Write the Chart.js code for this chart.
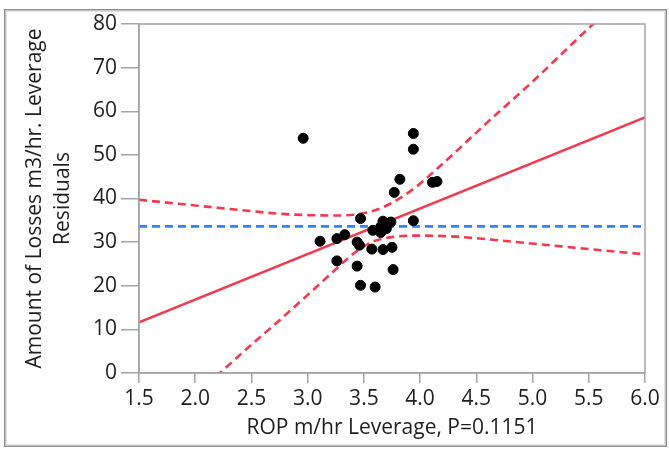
<!DOCTYPE html>
<html>
<head>
<meta charset="utf-8">
<script src="https://cdn.jsdelivr.net/npm/chart.js@4.4.0/dist/chart.umd.min.js"></script>
<style>
  html, body { margin: 0; padding: 0; background: #fff; }
  canvas { display: block; }
</style>
</head>
<body>
<canvas id="leverage" width="669" height="449"></canvas>
<script>
// observed points (ROP leverage, losses leverage residual)
const pointX = [2.96, 3.94, 3.94, 3.82, 4.11, 4.15, 3.77, 3.47, 3.94, 3.67, 3.74, 3.65, 3.70, 3.58,
  3.65, 3.11, 3.26, 3.33, 3.44, 3.46, 3.57, 3.67, 3.75, 3.26, 3.44, 3.76, 3.47, 3.60];
const pointY = [53.8, 54.9, 51.3, 44.4, 43.7, 43.9, 41.4, 35.4, 34.9, 34.8, 34.6, 33.5, 33.1, 32.7,
  32.2, 30.2, 30.8, 31.7, 30.0, 29.3, 28.4, 28.3, 28.8, 25.7, 24.5, 23.7, 20.1, 19.7];

// fitted line and mean line
const fitX = [1.5, 6.0];
const fitY = [11.6, 58.6];
const meanX = [1.5, 6.0];
const meanY = [33.6, 33.6];

// confidence curves
const upperX = [1.5, 2.0, 2.5, 2.75, 3.0, 3.25, 3.45, 3.6, 3.75, 3.95, 4.15, 4.35, 4.6, 5.0, 5.54, 5.65];
const upperY = [39.7, 38.4, 37.1, 36.5, 36.2, 36.1, 36.4, 37.3, 39.0, 42.4, 46.8, 51.5, 57.5, 66.8, 80.0, 82.5];
const lowerX = [2.1, 2.22, 2.5, 2.75, 3.0, 3.2, 3.43, 3.6, 3.8, 4.0, 4.35, 4.7, 5.06, 5.5, 6.0];
const lowerY = [-2.8, 0.0, 6.5, 12.1, 17.9, 22.6, 27.8, 30.3, 31.3, 31.5, 31.2, 30.4, 29.5, 28.4, 27.2];

const xTicks = [1.5, 2.0, 2.5, 3.0, 3.5, 4.0, 4.5, 5.0, 5.5, 6.0];
const yTicks = [0, 10, 20, 30, 40, 50, 60, 70, 80];

const xTitle = "ROP m/hr Leverage, P=0.1151";
const yTitle = ["Amount of Losses m3/hr. Leverage", "Residuals"];

const red = "#f23a4f";
const blue = "#3d7ef2";
const axisGray = "#a4a4a4";
const textColor = "#1e1e1e";
const fontFamily = "'Open Sans', 'Noto Sans', sans-serif";
const fontSize = 21;

const toXY = (xs, ys) => xs.map((x, i) => ({ x: x, y: ys[i] }));

// frame round the panel and box round the plot
const framePlugin = {
  id: "frame",
  beforeDraw(chart) {
    const ctx = chart.ctx;
    ctx.save();
    ctx.fillStyle = "#fff";
    ctx.fillRect(0, 0, chart.width, chart.height);
    const shades = ["#8e8e8e", "#c4c4c4", "#e2e2e2"];
    shades.forEach((c, i) => {
      ctx.strokeStyle = c;
      ctx.lineWidth = 1;
      ctx.strokeRect(4.5 + i, 9.5 + i, 662 - 2 * i, 437 - 2 * i);
    });
    ctx.restore();
  },
  afterDraw(chart) {
    const a = chart.chartArea;
    const ctx = chart.ctx;
    ctx.save();
    ctx.strokeStyle = axisGray;
    ctx.lineWidth = 1.5;
    ctx.strokeRect(a.left, a.top, a.right - a.left, a.bottom - a.top);
    ctx.restore();
  }
};

new Chart(document.getElementById("leverage"), {
  type: "scatter",
  data: {
    datasets: [
      {
        data: toXY(pointX, pointY),
        backgroundColor: "#000",
        borderColor: "#000",
        pointRadius: 5,
        order: 0
      },
      {
        data: toXY(fitX, fitY),
        showLine: true,
        borderColor: red,
        borderWidth: 2.6,
        pointRadius: 0,
        order: 1
      },
      {
        data: toXY(meanX, meanY),
        showLine: true,
        borderColor: blue,
        borderWidth: 2.6,
        borderDash: [8, 5],
        pointRadius: 0,
        order: 2
      },
      {
        data: toXY(upperX, upperY),
        showLine: true,
        borderColor: red,
        borderWidth: 2.6,
        borderDash: [8, 5],
        cubicInterpolationMode: "monotone",
        pointRadius: 0,
        order: 3
      },
      {
        data: toXY(lowerX, lowerY),
        showLine: true,
        borderColor: red,
        borderWidth: 2.6,
        borderDash: [8, 5],
        cubicInterpolationMode: "monotone",
        pointRadius: 0,
        order: 3
      }
    ]
  },
  options: {
    responsive: false,
    animation: false,
    layout: { padding: { top: 24, right: 24, bottom: 0, left: 0 } },
    plugins: {
      legend: { display: false },
      tooltip: { enabled: false }
    },
    scales: {
      x: {
        type: "linear",
        min: 1.5,
        max: 6.0,
        afterFit: (scale) => { scale.height = 76; },
        afterBuildTicks: (scale) => { scale.ticks = xTicks.map((v) => ({ value: v })); },
        ticks: {
          color: textColor,
          font: { family: fontFamily, size: fontSize },
          padding: 3,
          maxRotation: 0,
          callback: (v) => Number(v).toFixed(1)
        },
        grid: { drawOnChartArea: false, color: axisGray, tickLength: 10, lineWidth: 1.5 },
        border: { color: axisGray, width: 1.5 },
        title: {
          display: true,
          text: xTitle,
          color: textColor,
          font: { family: fontFamily, size: fontSize },
          padding: { top: 0, bottom: 8 }
        }
      },
      y: {
        type: "linear",
        min: 0,
        max: 80,
        afterFit: (scale) => { scale.width = 139; },
        afterBuildTicks: (scale) => { scale.ticks = yTicks.map((v) => ({ value: v })); },
        ticks: {
          color: textColor,
          font: { family: fontFamily, size: fontSize },
          padding: 4
        },
        grid: { drawOnChartArea: false, color: axisGray, tickLength: 18, lineWidth: 1.5 },
        border: { color: axisGray, width: 1.5 },
        title: {
          display: true,
          text: yTitle,
          color: textColor,
          font: { family: fontFamily, size: fontSize, lineHeight: 1.33 },
          padding: { top: 21, bottom: 0 }
        }
      }
    }
  },
  plugins: [framePlugin]
});
</script>
</body>
</html>
